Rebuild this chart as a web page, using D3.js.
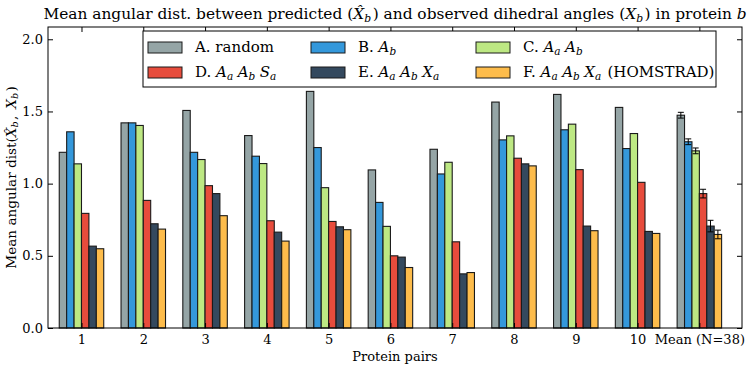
<!DOCTYPE html>
<html>
<head>
<meta charset="utf-8">
<script src="https://cdn.jsdelivr.net/npm/d3@7"></script>
<style>
  body { margin: 0; background: #fff; }
  svg text { font-family: "DejaVu Serif", serif; fill: #000; }
</style>
</head>
<body>
<svg id="svg"></svg>
<script>
// chart data
const categories = ["1", "2", "3", "4", "5", "6", "7", "8", "9", "10", "Mean (N=38)"];
const seriesLabels = [
  "A. random",
  "B. $A_b$",
  "C. $A_a A_b$",
  "D. $A_a A_b S_a$",
  "E. $A_a A_b X_a$",
  "F. $A_a A_b X_a$ (HOMSTRAD)"
];
const random  = [1.217, 1.421, 1.507, 1.333, 1.639, 1.095, 1.238, 1.565, 1.618, 1.528, 1.474];
const Ab      = [1.359, 1.421, 1.217, 1.190, 1.250, 0.870, 1.067, 1.303, 1.373, 1.243, 1.290];
const AaAb    = [1.137, 1.403, 1.167, 1.139, 0.972, 0.704, 1.148, 1.331, 1.412, 1.347, 1.227];
const AaAbSa  = [0.794, 0.884, 0.986, 0.743, 0.738, 0.500, 0.597, 1.176, 1.097, 1.009, 0.931];
const AaAbXa  = [0.567, 0.722, 0.931, 0.664, 0.701, 0.491, 0.375, 1.137, 0.706, 0.669, 0.706];
const homstrad = [0.549, 0.685, 0.778, 0.602, 0.681, 0.419, 0.384, 1.123, 0.674, 0.655, 0.648];
// error bars only on the last (mean) group
const meanErr = [0.02, 0.02, 0.02, 0.03, 0.04, 0.03];
const yTicks = [0.0, 0.5, 1.0, 1.5, 2.0];

const series = [random, Ab, AaAb, AaAbSa, AaAbXa, homstrad];
const colors = ["#95a5a6", "#3498db", "#bde883", "#e74c3c", "#34495e", "#fdbc4b"];

const width = 747, height = 366;
const margin = {left: 48, right: 5, top: 27, bottom: 38};
const barW = 0.12;

const svg = d3.select("#svg").attr("width", width).attr("height", height);

const x = d3.scaleLinear().domain([-0.542, 10.69]).range([margin.left, width - margin.right]);
const y = d3.scaleLinear().domain([0, 2.085]).range([height - margin.bottom, margin.top]);

// math-ish label renderer: $...$ gives italic letters, _x gives subscript
function mathText(sel, str) {
  const parts = str.split("$");
  parts.forEach((p, k) => {
    if (k % 2 === 0) {
      if (p) sel.append("tspan").text(p);
      return;
    }
    const toks = p.match(/\\hat\{.\}(_[A-Za-z])?|[A-Za-z](_[A-Za-z])?|,|\s+/g) || [];
    toks.forEach(t => {
      if (/^\s+$/.test(t)) { sel.append("tspan").text("\u2009"); return; }
      if (t === ",") { sel.append("tspan").text(", "); return; }
      let base = t[0], sub = null;
      if (t.startsWith("\\hat")) {
        base = t[5] + "\u0302";
        if (t.length > 7) sub = t[8];
      } else if (t.length === 3) sub = t[2];
      sel.append("tspan").attr("font-style", "italic").text(base);
      if (sub) {
        sel.append("tspan").attr("font-style", "italic")
          .attr("font-size", "0.7em").attr("dy", "0.25em").text(sub);
        sel.append("tspan").attr("dy", "-0.175em").text("\u200a");
      }
    });
  });
}

const plot = svg.append("g");

// bars
series.forEach((vals, s) => {
  plot.selectAll(null)
    .data(vals)
    .enter()
    .append("rect")
    .attr("x", (d, i) => x(i + (s - 3) * barW))
    .attr("width", x(barW) - x(0))
    .attr("y", d => y(d))
    .attr("height", d => y(0) - y(d))
    .attr("fill", colors[s])
    .attr("stroke", "#1a1a1a")
    .attr("stroke-width", 1.1);
});

// error bars on mean group
const mi = categories.length - 1;
meanErr.forEach((e, s) => {
  const cx = x(mi + (s - 2.5) * barW);
  const v = series[s][mi];
  const g = plot.append("g").attr("stroke", "#000").attr("stroke-width", 1);
  g.append("line").attr("x1", cx).attr("x2", cx).attr("y1", y(v - e)).attr("y2", y(v + e));
  [v - e, v + e].forEach(t => {
    g.append("line").attr("x1", cx - 3).attr("x2", cx + 3).attr("y1", y(t)).attr("y2", y(t));
  });
});

// axes with inward ticks
const idx = d3.range(categories.length);
const axLeft = svg.append("g").attr("transform", `translate(${margin.left},0)`)
  .call(d3.axisLeft(y).tickValues(yTicks).tickFormat(d3.format(".1f")).tickSize(-5).tickPadding(5));
const axRight = svg.append("g").attr("transform", `translate(${width - margin.right},0)`)
  .call(d3.axisRight(y).tickValues(yTicks).tickSize(-5).tickFormat(""));
const axBottom = svg.append("g").attr("transform", `translate(0,${height - margin.bottom})`)
  .call(d3.axisBottom(x).tickValues(idx).tickFormat(i => categories[i]).tickSize(-5).tickPadding(7));
const axTop = svg.append("g").attr("transform", `translate(0,${margin.top})`)
  .call(d3.axisTop(x).tickValues(idx).tickSize(-5).tickFormat(""));

[axLeft, axRight, axBottom, axTop].forEach(a => {
  a.select(".domain").remove();
  a.selectAll("line").attr("stroke", "#000");
  a.selectAll("text").attr("font-size", 13).attr("font-family", "DejaVu Serif, serif");
});

// frame
svg.append("rect")
  .attr("x", margin.left).attr("y", margin.top)
  .attr("width", width - margin.left - margin.right)
  .attr("height", height - margin.top - margin.bottom)
  .attr("fill", "none").attr("stroke", "#000").attr("stroke-width", 1);

// title
const title = svg.append("text")
  .attr("x", (margin.left + width - margin.right) / 2)
  .attr("y", 19)
  .attr("text-anchor", "middle")
  .attr("font-size", 15.4);
mathText(title, "Mean angular dist. between predicted ($\\hat{X}_b$) and observed dihedral angles ($X_b$) in protein $b$");

// axis labels
svg.append("text")
  .attr("x", (margin.left + width - margin.right) / 2)
  .attr("y", 361)
  .attr("text-anchor", "middle")
  .attr("font-size", 13)
  .text("Protein pairs");

const ylab = svg.append("text")
  .attr("transform", `translate(16,${(margin.top + height - margin.bottom) / 2}) rotate(-90)`)
  .attr("text-anchor", "middle")
  .attr("font-size", 13.6);
mathText(ylab, "Mean angular dist($\\hat{X}_b, X_b$)");

// legend
const legend = svg.append("g");
legend.append("rect")
  .attr("x", 143).attr("y", 31).attr("width", 573).attr("height", 56)
  .attr("fill", "#fff").attr("stroke", "#000").attr("stroke-width", 1);

const colX = [148, 311, 476];
const rowY = [47, 72];
seriesLabels.forEach((lab, i) => {
  const cx = colX[i % 3], cy = rowY[Math.floor(i / 3)];
  legend.append("rect")
    .attr("x", cx).attr("y", cy - 5).attr("width", 34).attr("height", 11)
    .attr("fill", colors[i]).attr("stroke", "#1a1a1a").attr("stroke-width", 1);
  const t = legend.append("text")
    .attr("x", cx + 47).attr("y", cy + 5)
    .attr("font-size", 15);
  mathText(t, lab);
});
</script>
</body>
</html>
